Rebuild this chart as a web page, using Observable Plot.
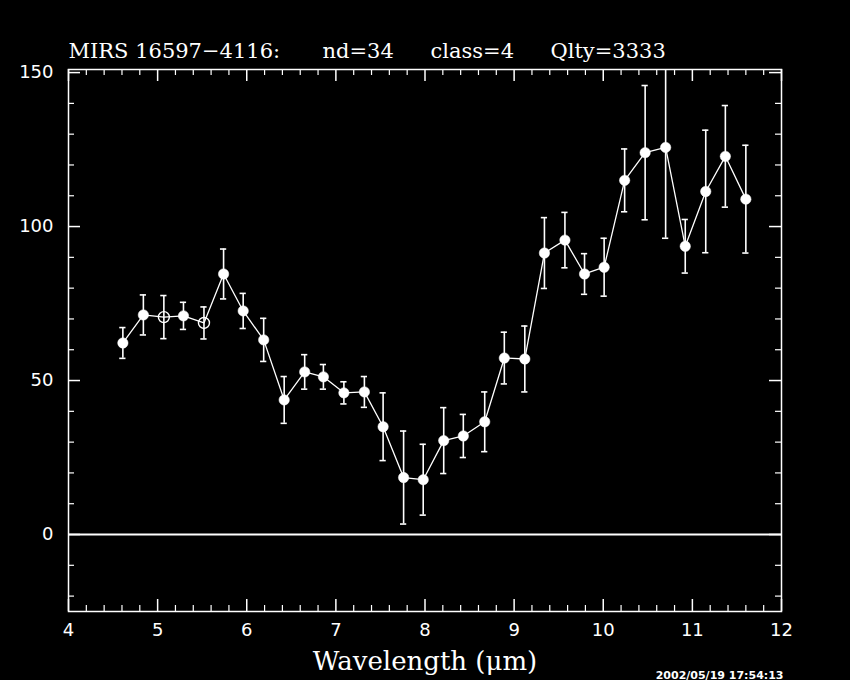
<!DOCTYPE html>
<html><head><meta charset="utf-8">
<script src="https://cdn.jsdelivr.net/npm/d3@7"></script>
<script src="https://cdn.jsdelivr.net/npm/@observablehq/plot@0.6"></script>
<style>html,body{margin:0;padding:0;background:#000;overflow:hidden}#chart svg{display:block}</style>
</head><body><div id="chart"></div>
<script>
const wavelength = [4.61,4.84,5.07,5.29,5.52,5.74,5.96,6.19,6.42,6.65,6.86,7.09,7.32,7.53,7.76,7.98,8.21,8.43,8.67,8.89,9.12,9.34,9.57,9.79,10.01,10.24,10.47,10.70,10.92,11.15,11.37,11.60];
const flux = [62.2,71.3,70.6,71.0,68.7,84.6,72.6,63.2,43.7,52.8,51.2,46.0,46.3,35.0,18.5,17.8,30.5,32.0,36.6,57.3,57.0,91.4,95.6,84.6,86.8,115.0,124.0,125.7,93.6,111.4,122.8,108.9];
const fluxErr = [5.0,6.5,7.0,4.4,5.2,8.1,5.7,7.0,7.6,5.6,4.0,3.6,5.0,11.0,15.1,11.5,10.7,7.0,9.7,8.4,10.7,11.5,9.0,6.6,9.4,10.2,21.8,29.5,8.7,19.9,16.5,17.5];
const marker = ["filled","filled","open","filled","open","filled","filled","filled","filled","filled","filled","filled","filled","filled","filled","filled","filled","filled","filled","filled","filled","filled","filled","filled","filled","filled","filled","filled","filled","filled","filled","filled"];
const xMajorTicks = [4,5,6,7,8,9,10,11,12];
const xMinorTicks = [4.2,4.4,4.6,4.8,5.2,5.4,5.6,5.8,6.2,6.4,6.6,6.8,7.2,7.4,7.6,7.8,8.2,8.4,8.6,8.8,9.2,9.4,9.6,9.8,10.2,10.4,10.6,10.8,11.2,11.4,11.6,11.8];
const yMajorTicks = [0,50,100,150];
const yMinorTicks = [-20,-10,10,20,30,40,60,70,80,90,110,120,130,140];
const titleParts = ["MIRS 16597\u22124116:", "nd=34", "class=4", "Qlty=3333"];
const xLabel = "Wavelength (\u03bcm)";
const stamp = "2002/05/19 17:54:13";

const rows = wavelength.map((w, i) => ({w, f: flux[i], e: fluxErr[i], m: marker[i]}));
const W = 850, H = 680, mL = 68, mR = 69, mT = 69, mB = 69;
const fw = W - mL - mR, fh = H - mT - mB;
const white = "#fff";
const serif = "DejaVu Serif, serif";
const sans = "DejaVu Sans, sans-serif";
const titleOffsets = [0, 254, 362, 482];

const chart = Plot.plot({
  width: W, height: H,
  marginLeft: mL, marginRight: mR, marginTop: mT, marginBottom: mB,
  style: {background: "#000", color: white, overflow: "visible"},
  x: {domain: [4, 12]},
  y: {domain: [-25, 151]},
  marks: [
    Plot.ruleY([0], {stroke: white, strokeWidth: 2}),
    Plot.ruleX(rows, {x: "w", y1: d => d.f - d.e, y2: d => d.f + d.e, stroke: white, strokeWidth: 1.6, clip: true}),
    Plot.ruleY(rows, {y: d => d.f + d.e, x1: d => d.w - 0.035, x2: d => d.w + 0.035, stroke: white, strokeWidth: 1.6, clip: true}),
    Plot.ruleY(rows, {y: d => d.f - d.e, x1: d => d.w - 0.035, x2: d => d.w + 0.035, stroke: white, strokeWidth: 1.6, clip: true}),
    Plot.line(rows, {x: "w", y: "f", stroke: white, strokeWidth: 1.3}),
    Plot.dot(rows.filter(d => d.m === "filled"), {x: "w", y: "f", r: 5.2, fill: white, stroke: white, strokeWidth: 0.5}),
    Plot.dot(rows.filter(d => d.m === "open"), {x: "w", y: "f", r: 5.5, fill: "none", stroke: white, strokeWidth: 1.4}),
    Plot.frame({stroke: white, strokeWidth: 1.5}),
    // bottom ticks
    Plot.ruleX(xMinorTicks, {x: d => d, insetTop: fh - 6, stroke: white, strokeWidth: 1.2}),
    Plot.ruleX(xMajorTicks, {x: d => d, insetTop: fh - 12, stroke: white, strokeWidth: 1.5}),
    // top ticks
    Plot.ruleX(xMinorTicks, {x: d => d, insetBottom: fh - 6, stroke: white, strokeWidth: 1.2}),
    Plot.ruleX(xMajorTicks, {x: d => d, insetBottom: fh - 12, stroke: white, strokeWidth: 1.5}),
    // left ticks
    Plot.ruleY(yMinorTicks, {y: d => d, insetRight: fw - 6, stroke: white, strokeWidth: 1.2}),
    Plot.ruleY(yMajorTicks, {y: d => d, insetRight: fw - 12, stroke: white, strokeWidth: 1.5}),
    // right ticks
    Plot.ruleY(yMinorTicks, {y: d => d, insetLeft: fw - 6, stroke: white, strokeWidth: 1.2}),
    Plot.ruleY(yMajorTicks, {y: d => d, insetLeft: fw - 12, stroke: white, strokeWidth: 1.5}),
    Plot.axisX({ticks: xMajorTicks, tickSize: 0, tickPadding: 12, fontSize: 18, fontFamily: sans, label: null, fill: white}),
    Plot.axisY({ticks: yMajorTicks, tickSize: 0, tickPadding: 15, fontSize: 18, fontFamily: sans, label: null, fill: white}),
    ...titleParts.map((t, i) => Plot.text([t], {text: d => d, frameAnchor: "top-left", textAnchor: "start", lineAnchor: "bottom", dx: titleOffsets[i], dy: -12, fontSize: 21, fontFamily: serif, fill: white})),
    Plot.text([xLabel], {text: d => d, frameAnchor: "bottom", textAnchor: "middle", lineAnchor: "bottom", dy: 58, fontSize: 26, fontFamily: serif, fill: white}),
    Plot.text([stamp], {text: d => d, frameAnchor: "bottom-right", textAnchor: "end", lineAnchor: "bottom", dx: 2, dy: 67, fontSize: 11, fontWeight: "bold", fontFamily: sans, fill: white})
  ]
});
document.getElementById("chart").appendChild(chart);
</script>
</body></html>
